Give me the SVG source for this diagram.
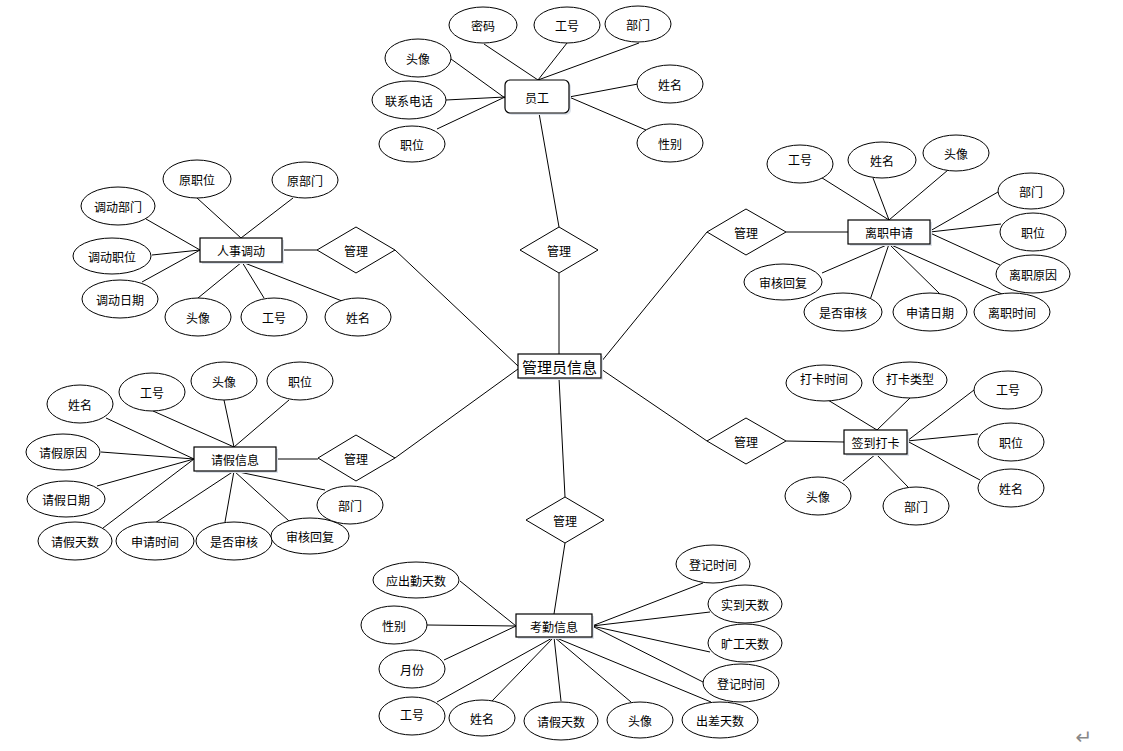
<svg xmlns="http://www.w3.org/2000/svg" width="1123" height="751" viewBox="0 0 1123 751">
<defs>
<style>
.e{fill:#fff;stroke:#000;stroke-width:1}
.b{fill:#fff;stroke:#000;stroke-width:1.2}
.sh{fill:#dde2ea;stroke:none}
.d{fill:#fff;stroke:#000;stroke-width:1}
.c line{stroke:#000;stroke-width:1}
text{font-family:"Noto Sans CJK SC","Liberation Sans",sans-serif;font-size:12px;fill:#000;text-anchor:middle;dominant-baseline:central}
.big{font-size:15px}
</style>
</defs>
<rect width="1123" height="751" fill="#fff"/>
<g class="c" id="connectors">
<line x1="539" y1="113" x2="559" y2="227"/>
<line x1="559" y1="273" x2="559" y2="354"/>
<line x1="484" y1="44" x2="538" y2="80"/>
<line x1="567" y1="43" x2="538" y2="80"/>
<line x1="639" y1="43" x2="538" y2="80"/>
<line x1="451" y1="59" x2="505" y2="98"/>
<line x1="446" y1="100" x2="505" y2="97"/>
<line x1="437" y1="129" x2="505" y2="97"/>
<line x1="638" y1="84" x2="569" y2="97"/>
<line x1="646" y1="130" x2="569" y2="97"/>
<line x1="282" y1="250" x2="317" y2="250"/>
<line x1="395" y1="250" x2="518" y2="366"/>
<line x1="197" y1="198" x2="241" y2="238"/>
<line x1="293" y1="198" x2="241" y2="238"/>
<line x1="146" y1="219" x2="200" y2="250"/>
<line x1="152" y1="255" x2="200" y2="250"/>
<line x1="142" y1="282" x2="200" y2="250"/>
<line x1="198" y1="298" x2="242" y2="262"/>
<line x1="264" y1="298" x2="242" y2="262"/>
<line x1="342" y1="301" x2="242" y2="262"/>
<line x1="786" y1="232" x2="848" y2="232"/>
<line x1="707" y1="232" x2="601" y2="362"/>
<line x1="819" y1="176" x2="889" y2="220"/>
<line x1="873" y1="178" x2="889" y2="220"/>
<line x1="948" y1="170" x2="889" y2="220"/>
<line x1="998" y1="192" x2="930" y2="231"/>
<line x1="1001" y1="224" x2="930" y2="232"/>
<line x1="1000" y1="265" x2="930" y2="233"/>
<line x1="822" y1="273" x2="889" y2="244"/>
<line x1="870" y1="300" x2="889" y2="244"/>
<line x1="940" y1="294" x2="889" y2="244"/>
<line x1="1002" y1="294" x2="889" y2="244"/>
<line x1="276" y1="459" x2="318" y2="459"/>
<line x1="395" y1="458" x2="518" y2="369"/>
<line x1="106" y1="418" x2="194" y2="459"/>
<line x1="153" y1="411" x2="234" y2="447"/>
<line x1="224" y1="400" x2="234" y2="447"/>
<line x1="289" y1="400" x2="234" y2="447"/>
<line x1="101" y1="452" x2="194" y2="459"/>
<line x1="97" y1="486" x2="194" y2="459"/>
<line x1="103" y1="528" x2="194" y2="459"/>
<line x1="155" y1="523" x2="234" y2="471"/>
<line x1="225" y1="522" x2="234" y2="471"/>
<line x1="289" y1="521" x2="234" y2="471"/>
<line x1="325" y1="490" x2="234" y2="471"/>
<line x1="786" y1="441" x2="844" y2="442"/>
<line x1="707" y1="441" x2="601" y2="369"/>
<line x1="823" y1="397" x2="877" y2="430"/>
<line x1="910" y1="398" x2="877" y2="430"/>
<line x1="974" y1="390" x2="907" y2="441"/>
<line x1="978" y1="434" x2="907" y2="441"/>
<line x1="980" y1="480" x2="907" y2="441"/>
<line x1="843" y1="481" x2="876" y2="454"/>
<line x1="908" y1="487" x2="876" y2="454"/>
<line x1="559" y1="378" x2="565" y2="497"/>
<line x1="565" y1="543" x2="554" y2="614"/>
<line x1="460" y1="581" x2="516" y2="626"/>
<line x1="427" y1="625" x2="516" y2="626"/>
<line x1="444" y1="660" x2="516" y2="626"/>
<line x1="437" y1="702" x2="554" y2="637"/>
<line x1="492" y1="701" x2="554" y2="637"/>
<line x1="561" y1="701" x2="554" y2="637"/>
<line x1="631" y1="702" x2="554" y2="637"/>
<line x1="711" y1="702" x2="554" y2="637"/>
<line x1="703" y1="583" x2="592" y2="626"/>
<line x1="710" y1="612" x2="592" y2="626"/>
<line x1="710" y1="652" x2="592" y2="626"/>
<line x1="705" y1="683" x2="592" y2="626"/>
</g>

<g id="admin">
<rect class="sh" x="520" y="356" width="83" height="24"/>
<rect class="b" x="518" y="354" width="83" height="24"/>
<text class="big" x="559.5" y="366">管理员信息</text>
</g>

<g id="employee">
<rect class="sh" x="507" y="82" width="64" height="33" rx="5"/>
<rect class="b" x="505" y="80" width="64" height="33" rx="5"/>
<text x="537" y="97">员工</text>
</g>
<g id="emp-mima"><ellipse class="e" cx="483" cy="25" rx="34" ry="18"/><text x="483" y="25">密码</text></g>
<g id="emp-gonghao"><ellipse class="e" cx="567" cy="25" rx="33" ry="18"/><text x="567" y="25">工号</text></g>
<g id="emp-bumen"><ellipse class="e" cx="638" cy="24" rx="33" ry="18"/><text x="638" y="24">部门</text></g>
<g id="emp-touxiang"><ellipse class="e" cx="418" cy="58" rx="33" ry="19"/><text x="418" y="58">头像</text></g>
<g id="emp-dianhua"><ellipse class="e" cx="409" cy="100" rx="37" ry="19"/><text x="409" y="100">联系电话</text></g>
<g id="emp-zhiwei"><ellipse class="e" cx="412" cy="144" rx="33" ry="18"/><text x="412" y="144">职位</text></g>
<g id="emp-xingming"><ellipse class="e" cx="670" cy="84" rx="33" ry="19"/><text x="670" y="84">姓名</text></g>
<g id="emp-xingbie"><ellipse class="e" cx="670" cy="143" rx="33" ry="19"/><text x="670" y="143">性别</text></g>
<g id="rel-emp"><polygon class="d" points="559,227 598,250 559,273 520,250"/><text x="559" y="250">管理</text></g>

<g id="transfer">
<rect class="sh" x="202" y="240" width="82" height="24"/>
<rect class="b" x="200" y="238" width="82" height="24"/>
<text x="241" y="250">人事调动</text>
</g>
<g id="rel-transfer"><polygon class="d" points="356,227 395,250 356,273 317,250"/><text x="356" y="250">管理</text></g>
<g id="tr-yzw"><ellipse class="e" cx="197" cy="179" rx="34" ry="19"/><text x="197" y="179">原职位</text></g>
<g id="tr-ybm"><ellipse class="e" cx="305" cy="180" rx="33" ry="18"/><text x="305" y="180">原部门</text></g>
<g id="tr-ddbm"><ellipse class="e" cx="118" cy="206" rx="37" ry="19"/><text x="118" y="206">调动部门</text></g>
<g id="tr-ddzw"><ellipse class="e" cx="112" cy="256" rx="39" ry="18"/><text x="112" y="256">调动职位</text></g>
<g id="tr-ddrq"><ellipse class="e" cx="120" cy="299" rx="38" ry="19"/><text x="120" y="299">调动日期</text></g>
<g id="tr-tx"><ellipse class="e" cx="198" cy="317" rx="33" ry="19"/><text x="198" y="317">头像</text></g>
<g id="tr-gh"><ellipse class="e" cx="274" cy="317" rx="33" ry="19"/><text x="274" y="317">工号</text></g>
<g id="tr-xm"><ellipse class="e" cx="358" cy="317" rx="33" ry="19"/><text x="358" y="317">姓名</text></g>

<g id="resign">
<rect class="sh" x="850" y="222" width="82" height="24"/>
<rect class="b" x="848" y="220" width="82" height="24"/>
<text x="889" y="232">离职申请</text>
</g>
<g id="rel-resign"><polygon class="d" points="746,209 786,232 746,255 707,232"/><text x="746" y="232">管理</text></g>
<g id="rs-gh"><ellipse class="e" cx="800" cy="164" rx="33" ry="19"/><text x="800" y="159">工号</text></g>
<g id="rs-xm"><ellipse class="e" cx="882" cy="160" rx="34" ry="18"/><text x="882" y="160">姓名</text></g>
<g id="rs-tx"><ellipse class="e" cx="956" cy="153" rx="33" ry="18"/><text x="956" y="153">头像</text></g>
<g id="rs-bm"><ellipse class="e" cx="1031" cy="191" rx="33" ry="18"/><text x="1031" y="191">部门</text></g>
<g id="rs-zw"><ellipse class="e" cx="1033" cy="232" rx="33" ry="19"/><text x="1033" y="232">职位</text></g>
<g id="rs-lzyy"><ellipse class="e" cx="1033" cy="274" rx="37" ry="19"/><text x="1033" y="274">离职原因</text></g>
<g id="rs-shhf"><ellipse class="e" cx="783" cy="282" rx="39" ry="18"/><text x="783" y="282">审核回复</text></g>
<g id="rs-sfsh"><ellipse class="e" cx="843" cy="312" rx="39" ry="19"/><text x="843" y="312">是否审核</text></g>
<g id="rs-sqrq"><ellipse class="e" cx="930" cy="312" rx="37" ry="19"/><text x="930" y="312">申请日期</text></g>
<g id="rs-lzsj"><ellipse class="e" cx="1012" cy="312" rx="38" ry="19"/><text x="1012" y="312">离职时间</text></g>

<g id="leave">
<rect class="sh" x="196" y="449" width="82" height="24"/>
<rect class="b" x="194" y="447" width="82" height="24"/>
<text x="235" y="459">请假信息</text>
</g>
<g id="rel-leave"><polygon class="d" points="356,435 395,458 356,481 318,458"/><text x="356" y="458">管理</text></g>
<g id="lv-xm"><ellipse class="e" cx="80" cy="404" rx="33" ry="19"/><text x="80" y="404">姓名</text></g>
<g id="lv-gh"><ellipse class="e" cx="152" cy="392" rx="33" ry="19"/><text x="152" y="392">工号</text></g>
<g id="lv-tx"><ellipse class="e" cx="224" cy="381" rx="33" ry="19"/><text x="224" y="381">头像</text></g>
<g id="lv-zw"><ellipse class="e" cx="300" cy="381" rx="33" ry="19"/><text x="300" y="381">职位</text></g>
<g id="lv-qjyy"><ellipse class="e" cx="63" cy="452" rx="37" ry="18"/><text x="63" y="452">请假原因</text></g>
<g id="lv-qjrq"><ellipse class="e" cx="66" cy="499" rx="39" ry="18"/><text x="66" y="499">请假日期</text></g>
<g id="lv-qjts"><ellipse class="e" cx="75" cy="541" rx="37" ry="19"/><text x="75" y="541">请假天数</text></g>
<g id="lv-sqsj"><ellipse class="e" cx="155" cy="541" rx="39" ry="19"/><text x="155" y="541">申请时间</text></g>
<g id="lv-sfsh"><ellipse class="e" cx="234" cy="541" rx="38" ry="19"/><text x="234" y="541">是否审核</text></g>
<g id="lv-shhf"><ellipse class="e" cx="310" cy="536" rx="39" ry="18"/><text x="310" y="536">审核回复</text></g>
<g id="lv-bm"><ellipse class="e" cx="350" cy="505" rx="33" ry="19"/><text x="350" y="505">部门</text></g>

<g id="checkin">
<rect class="sh" x="846" y="432" width="63" height="24"/>
<rect class="b" x="844" y="430" width="63" height="24"/>
<text x="875.5" y="442">签到打卡</text>
</g>
<g id="rel-checkin"><polygon class="d" points="746,418 786,441 746,464 707,441"/><text x="746" y="441">管理</text></g>
<g id="ck-dksj"><ellipse class="e" cx="824" cy="383" rx="38" ry="18"/><text x="824" y="378">打卡时间</text></g>
<g id="ck-dklx"><ellipse class="e" cx="910" cy="380" rx="37" ry="18"/><text x="910" y="378">打卡类型</text></g>
<g id="ck-gh"><ellipse class="e" cx="1008" cy="390" rx="34" ry="19"/><text x="1008" y="389">工号</text></g>
<g id="ck-zw"><ellipse class="e" cx="1011" cy="442" rx="33" ry="19"/><text x="1011" y="442">职位</text></g>
<g id="ck-xm"><ellipse class="e" cx="1011" cy="488" rx="33" ry="19"/><text x="1011" y="488">姓名</text></g>
<g id="ck-tx"><ellipse class="e" cx="818" cy="496" rx="33" ry="19"/><text x="818" y="496">头像</text></g>
<g id="ck-bm"><ellipse class="e" cx="916" cy="506" rx="33" ry="19"/><text x="916" y="506">部门</text></g>

<g id="attendance">
<rect class="sh" x="518" y="616" width="76" height="23"/>
<rect class="b" x="516" y="614" width="76" height="23"/>
<text x="554" y="626">考勤信息</text>
</g>
<g id="rel-attendance"><polygon class="d" points="565,497 604,520 565,543 526,520"/><text x="565" y="520">管理</text></g>
<g id="at-ycqts"><ellipse class="e" cx="416" cy="580" rx="43" ry="18"/><text x="416" y="580">应出勤天数</text></g>
<g id="at-xb"><ellipse class="e" cx="394" cy="625" rx="33" ry="19"/><text x="394" y="625">性别</text></g>
<g id="at-yf"><ellipse class="e" cx="412" cy="669" rx="33" ry="19"/><text x="412" y="669">月份</text></g>
<g id="at-gh"><ellipse class="e" cx="412" cy="716" rx="33" ry="19"/><text x="412" y="714">工号</text></g>
<g id="at-xm"><ellipse class="e" cx="482" cy="718" rx="33" ry="18"/><text x="482" y="718">姓名</text></g>
<g id="at-qjts"><ellipse class="e" cx="561" cy="721" rx="37" ry="19"/><text x="561" y="721">请假天数</text></g>
<g id="at-tx"><ellipse class="e" cx="640" cy="720" rx="33" ry="18"/><text x="640" y="720">头像</text></g>
<g id="at-ccts"><ellipse class="e" cx="720" cy="720" rx="38" ry="18"/><text x="720" y="720">出差天数</text></g>
<g id="at-djsj1"><ellipse class="e" cx="713" cy="564" rx="37" ry="19"/><text x="713" y="564">登记时间</text></g>
<g id="at-sdts"><ellipse class="e" cx="745" cy="604" rx="37" ry="19"/><text x="745" y="604">实到天数</text></g>
<g id="at-kgts"><ellipse class="e" cx="745" cy="643" rx="37" ry="19"/><text x="745" y="643">旷工天数</text></g>
<g id="at-djsj2"><ellipse class="e" cx="741" cy="683" rx="38" ry="19"/><text x="741" y="683">登记时间</text></g>

<text x="1084" y="737" style="font-family:'DejaVu Sans',sans-serif;font-size:20px;fill:#888">↵</text>
</svg>
